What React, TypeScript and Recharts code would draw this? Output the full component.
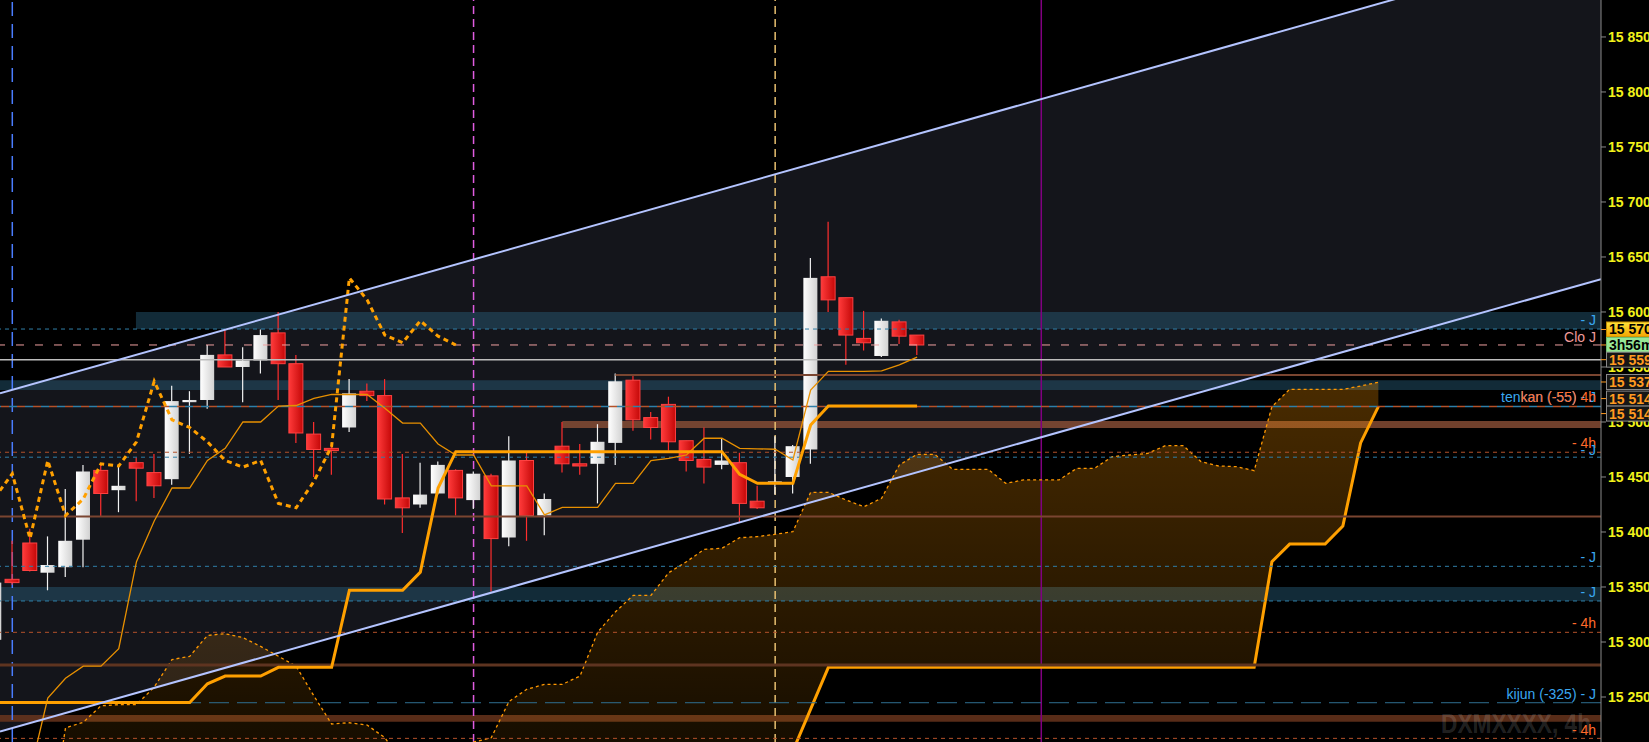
import React from "react";
import {
  ComposedChart, Bar, Line, Area, XAxis, YAxis, ReferenceLine, ReferenceArea,
} from "recharts";

const FONT = "'Liberation Sans', Arial, sans-serif";

// first array slot is bar -1 (cut at the left edge)
const FIRST = -1;

const OPEN = [
  15302, 15357, 15390, 15363, 15368, 15393, 15456, 15438, 15463, 15454,
  15448, 15518, 15520, 15561, 15550, 15556, 15581, 15553, 15489, 15476,
  15495, 15528, 15524, 15431, 15425, 15435, 15456, 15429, 15451, 15395,
  15465, 15415, 15478, 15462, 15462, 15481, 15538, 15504, 15516, 15483,
  15466, 15461, 15463, 15428, 15445, 15450, 15475, 15632, 15613, 15576,
  15560, 15591, 15579,
];
const HIGH = [
  15358, 15392, 15403, 15396, 15439, 15461, 15462, 15459, 15468, 15471,
  15533, 15528, 15570, 15584, 15568, 15584, 15600, 15561, 15500, 15481,
  15539, 15535, 15539, 15471, 15463, 15464, 15457, 15455, 15453, 15487,
  15472, 15435, 15500, 15480, 15498, 15544, 15543, 15509, 15523, 15483,
  15495, 15485, 15472, 15442, 15487, 15479, 15649, 15682, 15613, 15601,
  15594, 15593, 15579,
];
const LOW = [
  15296, 15352, 15364, 15347, 15359, 15368, 15414, 15418, 15428, 15431,
  15443, 15471, 15512, 15550, 15518, 15544, 15520, 15481, 15450, 15452,
  15491, 15519, 15425, 15399, 15422, 15434, 15415, 15421, 15346, 15387,
  15392, 15397, 15454, 15452, 15426, 15461, 15492, 15484, 15474, 15455,
  15444, 15457, 15409, 15421, 15434, 15435, 15462, 15600, 15552, 15565,
  15559, 15571, 15561,
];
const CLOSE = [
  15354, 15354, 15365, 15370, 15392, 15455, 15435, 15442, 15458, 15442,
  15519, 15520, 15561, 15550, 15556, 15579, 15553, 15490, 15475, 15474,
  15526, 15524, 15430, 15422, 15434, 15461, 15431, 15453, 15394, 15465,
  15415, 15430, 15462, 15460, 15482, 15537, 15502, 15495, 15482, 15465,
  15459, 15465, 15426, 15422, 15446, 15478, 15631, 15611, 15579, 15572,
  15592, 15578, 15570,
];

const TENKAN = [
  15095, 15173, 15181, 15249, 15267, 15278, 15278, 15294, 15373, 15410,
  15440, 15440, 15465, 15476, 15500, 15500, 15514.5, 15515, 15521.5, 15525,
  15525, 15525, 15512.5, 15499, 15499, 15480, 15470, 15470, 15442, 15442,
  15442, 15415.5, 15422.4, 15422.4, 15422.4, 15444.2, 15444.2, 15464.8, 15467, 15470,
  15485.2, 15485.2, 15476, 15475.6, 15475.2, 15465.5, 15529, 15546, 15546, 15546,
  15546.4, 15552, 15559,
];
const KIJUN = [
  15245, 15245, 15245, 15245, 15245, 15245, 15245, 15245, 15245, 15245,
  15245, 15245, 15262, 15269, 15269, 15269, 15277, 15277, 15277, 15277,
  15347, 15347, 15347, 15347, 15363.5, 15440, 15473, 15473, 15473, 15473,
  15473, 15473, 15473, 15473, 15473, 15473, 15473, 15473, 15473, 15473,
  15473, 15473, 15452.4, 15444.2, 15444.2, 15444.2, 15497.3, 15514.5, 15514.5, 15514.5,
  15514.5, 15514.5, 15514.5,
];

// cloud, shifted 26 bars forward: slots -1..77
const SPAN_A = [
  15100, 15100, 15100, 15120, 15222, 15227, 15242, 15243, 15243, 15259,
  15284, 15287, 15306, 15307.5, 15304, 15296, 15287, 15278, 15251, 15225.5,
  15226.6, 15224.5, 15213, 15190, 15160, 15150, 15170, 15209, 15213, 15246,
  15257, 15261.5, 15261.5, 15269, 15309, 15327.5, 15342.4, 15342.4, 15363, 15373,
  15384.2, 15385.2, 15394.8, 15395.8, 15397.9, 15400.3, 15436.1, 15436.1, 15429.1, 15423,
  15430.6, 15460.9, 15470.6, 15470.6, 15457, 15457, 15457, 15444.2, 15447.3, 15447.3,
  15447.3, 15457.9, 15457.9, 15468.5, 15470, 15471.5, 15478.5, 15478.5, 15464, 15460,
  15459.4, 15455.8, 15513.9, 15529.7, 15529.7, 15529.7, 15529.7, 15532.7, 15536.1,
];
const SPAN_B = [
  15150, 15150, 15150, 15150, 15150, 15150, 15150, 15150, 15150, 15150,
  15150, 15150, 15150, 15150, 15150, 15150, 15150, 15150, 15150, 15150,
  15150, 15150, 15150, 15150, 15150, 15150, 15150, 15150, 15150, 15150,
  15150, 15150, 15150, 15150, 15150, 15150, 15150, 15150, 15150, 15150,
  15150, 15150, 15150, 15150, 15150, 15201, 15239, 15277, 15277, 15277,
  15277, 15277, 15277, 15277, 15277, 15277, 15277, 15277, 15277, 15277,
  15277, 15277, 15277, 15277, 15277, 15277, 15277, 15277, 15277, 15277,
  15277, 15277, 15373, 15389, 15389, 15389, 15405.5, 15481, 15514,
];

const PRICE_TICKS = [
  15250, 15300, 15350, 15400, 15450, 15500, 15550, 15600, 15650, 15700, 15750, 15800, 15850,
];

// drawn channel (two parallel trend lines)
const CHANNEL_X = [-0.693, 89.55];
const CHANNEL_LOW = [15218.7, 15629.9];
const CHANNEL_HIGH = [15526.1, 15937.3];

const X_MIN = -0.693;
const X_MAX = 89.55;
const Y_MIN = 15209.1;
const Y_MAX = 15883.6;

const rows: any[] = [];
for (let k = 0; k < SPAN_A.length; k++) {
  const row: any = { i: FIRST + k, spanA: SPAN_A[k], spanB: SPAN_B[k] };
  if (k < OPEN.length) {
    row.open = OPEN[k];
    row.high = HIGH[k];
    row.low = LOW[k];
    row.close = CLOSE[k];
    row.tenkan = TENKAN[k];
    row.kijun = KIJUN[k];
  }
  if (k + 26 < CLOSE.length) row.chikou = CLOSE[k + 26];
  rows.push(row);
}
const channel = CHANNEL_X.map((x, n) => ({ i: x, band: [CHANNEL_LOW[n], CHANNEL_HIGH[n]] }));
const upperLine = CHANNEL_X.map((x, n) => ({ i: x, v: CHANNEL_HIGH[n] }));
const lowerLine = CHANNEL_X.map((x, n) => ({ i: x, v: CHANNEL_LOW[n] }));

const fmt = (v: number) => `${Math.floor(v / 1000)} ${String(v % 1000).padStart(3, "0")}`;

const BLUE = "#2f7fa8";
const RUST = "#b4522a";
const BROWN = "#7a4530";
const LBL_BLUE = "#3aa8f0";
const LBL_ORANGE = "#ff6a2a";

function Candle(props: any) {
  const { x, y, width, height, payload } = props;
  if (!payload || payload.high == null) return null;
  const { open, close, high, low } = payload;
  const cx = x + width / 2;
  const py = (v: number) => y + ((high - v) / (high - low)) * height;
  const up = close >= open;
  const top = py(Math.max(open, close));
  const bh = Math.max(py(Math.min(open, close)) - top, 2);
  return (
    <g>
      <line x1={cx} x2={cx} y1={y} y2={y + height} stroke={up ? "#f2f2f2" : "#ff2e2e"} strokeWidth={1.2} />
      <rect
        x={cx - 7} y={top} width={14} height={bh}
        fill={up ? "url(#gUp)" : "url(#gDn)"}
        stroke={up ? "none" : "#ff4242"} strokeWidth={1}
      />
    </g>
  );
}

function EdgeText(props: any) {
  const { viewBox, text, color, dy = 4 } = props;
  if (!viewBox) return null;
  return (
    <text x={viewBox.x + viewBox.width - 5} y={viewBox.y - dy} textAnchor="end"
      fill={color} fontSize={14} fontFamily={FONT}>{text}</text>
  );
}

function PriceBox(props: any) {
  const { viewBox, text, bg, fg, border, dy } = props;
  if (!viewBox) return null;
  const x = viewBox.x + viewBox.width;
  const cy = viewBox.y + dy;
  return (
    <g>
      <line x1={x} x2={x + 6} y1={cy} y2={cy} stroke="#ff9a20" strokeWidth={1} />
      <rect x={x + 5.5} y={cy - 7.5} width={50} height={15} fill={bg} stroke={border} strokeWidth={1} />
      <text x={x + 8} y={cy + 5} fill={fg} fontSize={14} fontWeight={700} fontFamily={FONT}>{text}</text>
    </g>
  );
}

function Watermark(props: any) {
  const { viewBox } = props;
  if (!viewBox) return null;
  return (
    <text x={viewBox.x + viewBox.width - 10} y={733} textAnchor="end" fill="rgba(255,255,255,0.15)"
      fontSize={27} fontWeight={700} fontFamily={FONT} textLength={150} lengthAdjust="spacingAndGlyphs">
      DXMXXXX, 4h
    </text>
  );
}

export default function App() {
  return (
    <div style={{ position: "absolute", left: 0, top: 0, width: 1649, height: 742, background: "#000" }}>
      <ComposedChart width={1649} height={742} data={rows} margin={{ top: 0, right: 0, bottom: 0, left: 0 }}>
        <defs>
          <linearGradient id="gUp" x1="0" y1="0" x2="1" y2="0">
            <stop offset="0" stopColor="#ffffff" />
            <stop offset="1" stopColor="#d2d2d2" />
          </linearGradient>
          <linearGradient id="gDn" x1="0" y1="0" x2="1" y2="0">
            <stop offset="0" stopColor="#ff3a3a" />
            <stop offset="1" stopColor="#c40808" />
          </linearGradient>
          <linearGradient id="cloudFill" gradientUnits="userSpaceOnUse" x1="0" y1="360" x2="0" y2="742">
            <stop offset="0" stopColor="rgb(255,150,0)" stopOpacity={0.3} />
            <stop offset="1" stopColor="rgb(255,150,0)" stopOpacity={0.09} />
          </linearGradient>
          <linearGradient id="boxGold" x1="0" y1="0" x2="0" y2="1">
            <stop offset="0" stopColor="#ffe23a" />
            <stop offset="1" stopColor="#f2a400" />
          </linearGradient>
        </defs>
        <XAxis dataKey="i" type="number" domain={[X_MIN, X_MAX]} allowDataOverflow hide />
        <YAxis
          orientation="right" width={48} domain={[Y_MIN, Y_MAX]} allowDataOverflow
          ticks={PRICE_TICKS} interval={0} tickFormatter={fmt} tickSize={5} tickMargin={2}
          tick={{ fill: "#f2f21a", fontSize: 14, fontWeight: 700, fontFamily: FONT }}
          tickLine={{ stroke: "#8a8a8a" }} axisLine={{ stroke: "#8a8a8a" }}
        />

        <Area data={channel} dataKey="band" type="linear" fill="#14151b" fillOpacity={1} stroke="none"
          activeDot={false} isAnimationActive={false} />

        <ReferenceArea x1={6.97} y1={15584.5} y2={15600} fill="rgba(40,95,125,0.45)" fillOpacity={1} stroke="none" />
        <ReferenceArea y1={15529} y2={15538} fill="rgba(40,95,125,0.45)" fillOpacity={1} stroke="none" />
        <ReferenceArea y1={15337.3} y2={15350} fill="rgba(40,95,125,0.45)" fillOpacity={1} stroke="none" />
        <ReferenceArea x1={31} y1={15494.5} y2={15501} fill="rgba(140,80,55,0.8)" fillOpacity={1} stroke="none" />
        <ReferenceArea y1={15227.5} y2={15233.6} fill="rgba(110,55,30,0.8)" fillOpacity={1} stroke="none" />

        <Area dataKey={(d: any) => [d.spanB, d.spanA]} type="linear" fill="url(#cloudFill)" fillOpacity={1} stroke="none"
          activeDot={false} isAnimationActive={false} />
        <Line dataKey="spanA" type="linear" stroke="#ff9800" strokeWidth={1.3} strokeDasharray="3 3" dot={false}
          activeDot={false} isAnimationActive={false} />
        <Line dataKey="spanB" type="linear" stroke="#ffa000" strokeWidth={3} dot={false}
          activeDot={false} isAnimationActive={false} />

        <ReferenceLine x={0} stroke="#4a7dff" strokeWidth={1.5} strokeDasharray="14 8" zIndex={250} />
        <ReferenceLine x={26} stroke="#e05ce0" strokeWidth={1.5} strokeDasharray="8 5" zIndex={250} />
        <ReferenceLine x={43} stroke="#e8c070" strokeWidth={1.5} strokeDasharray="8 5" zIndex={250} />
        <ReferenceLine x={58} stroke="#800080" strokeWidth={1.5} zIndex={250} />

        <Bar dataKey={(d: any) => (d.high == null ? null : [d.low, d.high])} barSize={14}
          shape={(p: any) => <Candle {...p} />} activeBar={false} isAnimationActive={false} />

        <ReferenceLine y={15584.5} stroke={BLUE} strokeDasharray="4 4" label={<EdgeText text="- J" color={LBL_BLUE} />} />
        <ReferenceLine y={15570} stroke="#f0a0a0" strokeDasharray="8 11" label={<EdgeText text="Clo J" color="#f09a9a" dy={3} />} />
        <ReferenceLine y={15556.5} stroke="#bdbdbd" strokeWidth={1.5} />
        <ReferenceLine segment={[{ x: 34, y: 15542.7 }, { x: X_MAX, y: 15542.7 }]} stroke={BROWN} strokeWidth={2} />
        <ReferenceLine y={15514} stroke={BLUE} strokeWidth={1.5} strokeDasharray="8 8" label={<EdgeText text="tenkan (-55) - J" color={LBL_BLUE} dy={5} />} />
        <ReferenceLine y={15514} stroke={RUST} strokeWidth={1.5} strokeDasharray="8 8" strokeDashoffset={8} label={<EdgeText text="kan (-55) 4h" color={LBL_ORANGE} dy={5} />} />
        <ReferenceLine y={15472.5} stroke={RUST} strokeDasharray="4 4" label={<EdgeText text="- 4h" color={LBL_ORANGE} />} />
        <ReferenceLine y={15468} stroke={BLUE} strokeDasharray="4 4" label={<EdgeText text="- J" color={LBL_BLUE} dy={2} />} />
        <ReferenceLine y={15414} stroke={BROWN} strokeWidth={2} />
        <ReferenceLine y={15368.8} stroke={BLUE} strokeDasharray="4 4" label={<EdgeText text="- J" color={LBL_BLUE} />} />
        <ReferenceLine y={15337.3} stroke={BLUE} strokeDasharray="4 4" label={<EdgeText text="- J" color={LBL_BLUE} />} />
        <ReferenceLine y={15308.8} stroke={RUST} strokeDasharray="4 4" label={<EdgeText text="- 4h" color={LBL_ORANGE} />} />
        <ReferenceLine y={15279} stroke="#5e3420" strokeWidth={3} />
        <ReferenceLine y={15244.8} stroke="#2f6f90" strokeDasharray="20 8" label={<EdgeText text="kijun (-325) - J" color={LBL_BLUE} />} />
        <ReferenceLine y={15215} stroke="none" label={<Watermark />} />
        <ReferenceLine y={15212.4} stroke={RUST} strokeDasharray="4 4" label={<EdgeText text="- 4h" color={LBL_ORANGE} dy={3} />} />

        <Line dataKey="tenkan" type="linear" stroke="#e89000" strokeWidth={1.3} dot={false}
          activeDot={false} isAnimationActive={false} />
        <Line dataKey="kijun" type="linear" stroke="#ffa000" strokeWidth={3} dot={false}
          activeDot={false} isAnimationActive={false} />
        <Line dataKey="chikou" type="linear" stroke="#ffa000" strokeWidth={3} strokeDasharray="5 4" dot={false}
          activeDot={false} isAnimationActive={false} />

        <Line data={upperLine} dataKey="v" type="linear" stroke="#b4c4ff" strokeWidth={2} dot={false}
          activeDot={false} isAnimationActive={false} />
        <Line data={lowerLine} dataKey="v" type="linear" stroke="#b4c4ff" strokeWidth={2} dot={false}
          activeDot={false} isAnimationActive={false} />

        <ReferenceLine y={15570} stroke="none" zIndex={3000} label={<PriceBox text="15 570" bg="url(#boxGold)" fg="#000" border="#c08800" dy={-15.5} />} />
        <ReferenceLine y={15570} stroke="none" zIndex={3000} label={<PriceBox text="3h56m" bg="#96e896" fg="#000" border="#70c070" dy={0} />} />
        <ReferenceLine y={15559} stroke="none" zIndex={3000} label={<PriceBox text="15 559" bg="#161616" fg="#ff9a20" border="#8a8a8a" dy={2.6} />} />
        <ReferenceLine y={15537} stroke="none" zIndex={3000} label={<PriceBox text="15 537" bg="#161616" fg="#ff9a20" border="#8a8a8a" dy={0.7} />} />
        <ReferenceLine y={15514} stroke="none" zIndex={3000} label={<PriceBox text="15 514" bg="#161616" fg="#ff9a20" border="#8a8a8a" dy={-8} />} />
        <ReferenceLine y={15514} stroke="none" zIndex={3000} label={<PriceBox text="15 514" bg="#161616" fg="#ff9a20" border="#8a8a8a" dy={7} />} />
      </ComposedChart>
    </div>
  );
}
